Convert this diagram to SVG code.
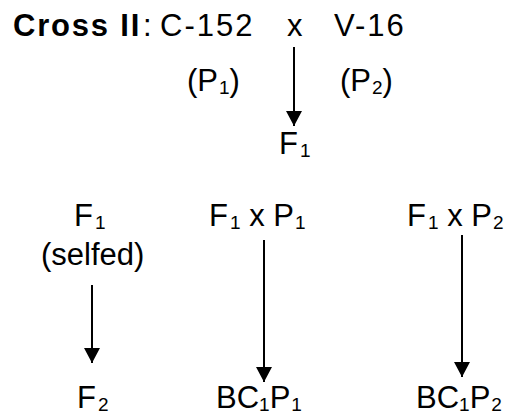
<svg xmlns="http://www.w3.org/2000/svg" width="514" height="415" viewBox="0 0 514 415">
<style>
text{font-family:"Liberation Sans",Arial,sans-serif;font-size:31px;fill:#000}
.b{font-weight:bold;letter-spacing:1.8px}
.s{font-size:19px}
.c{stroke:#000;stroke-width:2;fill:none}
</style>
<defs>
<marker id="ah" viewBox="0 0 15 16" refX="15" refY="8" markerWidth="15" markerHeight="16" markerUnits="userSpaceOnUse" orient="auto">
<path d="M0,0 L15,8 L0,16 Z" fill="#000"/>
</marker>
</defs>
<rect width="514" height="415" fill="#fff"/>
<g id="title"><text x="13" y="36" class="b">Cross II</text><text x="143" y="36">: </text><text x="160" y="36" letter-spacing="2">C-152</text><text x="287" y="36">x</text><text x="334" y="36" letter-spacing="2">V-16</text></g>
<g id="p1"><text x="187" y="91">(P<tspan class="s" dx="1" dy="3">1</tspan><tspan dy="-3">)</tspan></text></g>
<g id="p2"><text x="340" y="91">(P<tspan class="s" dx="1" dy="3">2</tspan><tspan dy="-3">)</tspan></text></g>
<g id="f1"><text x="279" y="154">F<tspan class="s" dx="2" dy="3">1</tspan></text></g>
<g id="f1selfed"><text x="74" y="226">F<tspan class="s" dx="2" dy="3">1</tspan></text><text x="41" y="265">(selfed)</text></g>
<g id="f1xp1"><text x="209" y="226">F<tspan class="s" dx="2" dy="3">1</tspan><tspan dy="-3"> x P</tspan><tspan class="s" dx="1" dy="3">1</tspan></text></g>
<g id="f1xp2"><text x="407" y="226">F<tspan class="s" dx="2" dy="3">1</tspan><tspan dy="-3"> x P</tspan><tspan class="s" dx="1" dy="3">2</tspan></text></g>
<g id="f2"><text x="77" y="408">F<tspan class="s" dx="2" dy="3">2</tspan></text></g>
<g id="bc1p1"><text x="216" y="408">BC<tspan class="s" dy="3">1</tspan><tspan dy="-3">P</tspan><tspan class="s" dx="1" dy="3">1</tspan></text></g>
<g id="bc1p2"><text x="416" y="408">BC<tspan class="s" dy="3">1</tspan><tspan dy="-3">P</tspan><tspan class="s" dx="1" dy="3">2</tspan></text></g>
<g id="connectors">
<line class="c" x1="294" y1="47" x2="294" y2="126" marker-end="url(#ah)"/>
<line class="c" x1="92" y1="285" x2="92" y2="363" marker-end="url(#ah)"/>
<line class="c" x1="264" y1="240" x2="264" y2="382" marker-end="url(#ah)"/>
<line class="c" x1="462" y1="235" x2="462" y2="377" marker-end="url(#ah)"/>
</g>
</svg>
